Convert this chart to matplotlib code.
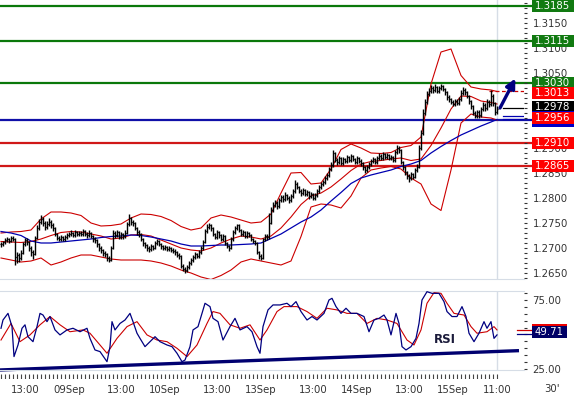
import numpy as np
import matplotlib
matplotlib.use("Agg")
import matplotlib.pyplot as plt
import matplotlib.transforms as mtransforms
from matplotlib.patches import Rectangle

# EUR/USD 30' bars, 08Sep 07:00 .. 15Sep 11:00, prices in pips above 1.2600
close_pips = [108, 112, 116, 118, 115, 121, 119, 82, 86, 80,
              90, 108, 116, 112, 100, 92, 88, 120, 140, 152,
              158, 150, 142, 148, 152, 146, 140, 128, 120, 118,
              122, 118, 122, 126, 128, 130, 126, 132, 128, 130,
              128, 134, 128, 126, 130, 124, 118, 116, 108, 100,
              96, 90, 88, 80, 76, 100, 130, 126, 132, 122,
              128, 124, 130, 148, 160, 152, 150, 140, 132, 128,
              118, 110, 106, 100, 98, 104, 100, 110, 114, 108,
              104, 100, 102, 98, 100, 96, 94, 92, 86, 84,
              64, 58, 56, 62, 70, 76, 82, 88, 84, 92,
              100, 112, 134, 142, 146, 140, 128, 122, 132, 126,
              118, 124, 110, 104, 100, 118, 132, 140, 146, 136,
              128, 132, 124, 130, 126, 118, 114, 110, 92, 84,
              80, 118, 124, 122, 150, 176, 186, 190, 184, 196,
              202, 198, 206, 200, 196, 204, 214, 228, 222, 214,
              210, 216, 208, 212, 204, 208, 200, 206, 214, 222,
              228, 232, 240, 246, 258, 266, 290, 276, 272, 280,
              270, 278, 274, 282, 276, 284, 278, 272, 280, 274,
              270, 262, 256, 262, 268, 274, 278, 272, 280, 284,
              280, 288, 282, 286, 280, 282, 276, 292, 300, 296,
              272, 262, 252, 244, 240, 248, 242, 256, 262, 300,
              330, 370, 392, 408, 414, 420, 416, 422, 414, 420,
              424, 418, 412, 402, 398, 392, 388, 394, 390, 398,
              410, 416, 412, 404, 394, 384, 370, 364, 372, 366,
              378, 386, 380, 392, 388, 404, 390, 372, 378]
high_pips = [112, 115, 120, 122, 121, 125, 124, 121, 92, 90,
             96, 112, 121, 120, 114, 104, 96, 124, 146, 158,
             166, 163, 154, 155, 160, 156, 150, 143, 131, 124,
             126, 125, 126, 130, 133, 136, 133, 137, 135, 134,
             134, 138, 137, 132, 136, 133, 127, 122, 119, 111,
             104, 99, 94, 91, 84, 104, 136, 134, 137, 135,
             133, 131, 136, 152, 169, 163, 157, 153, 143, 136,
             130, 121, 113, 109, 104, 108, 107, 114, 119, 117,
             111, 107, 106, 105, 104, 103, 100, 98, 95, 90,
             86, 68, 62, 66, 74, 80, 86, 92, 91, 97,
             105, 117, 138, 148, 151, 149, 143, 131, 136, 135,
             129, 128, 126, 113, 107, 122, 136, 144, 149, 148,
             139, 136, 134, 134, 133, 129, 121, 117, 112, 95,
             88, 121, 128, 128, 170, 182, 192, 196, 194, 200,
             207, 206, 212, 209, 204, 209, 219, 236, 232, 225,
             218, 221, 219, 216, 215, 212, 211, 210, 219, 226,
             233, 237, 245, 251, 263, 272, 296, 293, 281, 285,
             283, 283, 281, 287, 285, 289, 287, 281, 285, 283,
             278, 273, 265, 266, 272, 279, 283, 281, 285, 290,
             288, 293, 291, 291, 289, 287, 285, 296, 306, 304,
             298, 275, 265, 255, 248, 252, 251, 260, 268, 306,
             336, 378, 398, 414, 420, 426, 424, 429, 425, 425,
             428, 427, 421, 414, 406, 401, 396, 399, 398, 403,
             416, 423, 420, 415, 407, 397, 387, 374, 377, 376,
             383, 392, 390, 398, 397, 416, 408, 393, 384]
low_pips = [102, 105, 109, 113, 111, 112, 114, 66, 70, 72,
            76, 88, 104, 106, 95, 84, 79, 86, 118, 136,
            148, 145, 136, 138, 144, 140, 134, 124, 116, 114,
            115, 114, 115, 119, 122, 124, 122, 123, 124, 125,
            124, 125, 124, 121, 122, 120, 113, 111, 103, 95,
            90, 85, 82, 75, 72, 74, 98, 120, 122, 118,
            119, 119, 121, 128, 145, 147, 144, 136, 127, 123,
            114, 105, 100, 95, 93, 95, 96, 98, 107, 104,
            99, 96, 97, 94, 95, 92, 90, 87, 82, 79,
            60, 54, 51, 53, 59, 67, 73, 79, 80, 81,
            89, 97, 110, 130, 138, 135, 124, 118, 119, 121,
            114, 115, 106, 100, 94, 98, 115, 129, 137, 132,
            124, 125, 120, 121, 122, 114, 110, 106, 88, 79,
            76, 79, 115, 117, 118, 148, 172, 182, 179, 181,
            192, 193, 195, 196, 191, 193, 201, 211, 218, 210,
            205, 206, 204, 204, 199, 200, 196, 197, 203, 211,
            219, 225, 229, 237, 243, 254, 262, 272, 267, 269,
            266, 267, 270, 271, 272, 273, 274, 268, 269, 270,
            265, 257, 250, 252, 259, 265, 271, 268, 269, 277,
            276, 277, 278, 279, 276, 277, 272, 273, 289, 291,
            268, 257, 247, 238, 233, 237, 238, 240, 252, 260,
            296, 326, 366, 388, 404, 410, 411, 412, 410, 410,
            416, 414, 407, 397, 393, 388, 384, 385, 386, 387,
            395, 406, 407, 400, 389, 379, 366, 360, 360, 361,
            363, 374, 375, 377, 383, 385, 385, 367, 368]

# bollinger (20) and moving average, read every 5 bars
band_bar = list(range(0, 246, 5)) + [248]
upper_pips = [130, 132, 133, 136, 158, 172, 172, 170, 165, 150,
              144, 145, 148, 160, 168, 167, 163, 155, 143, 136,
              140, 160, 166, 162, 156, 150, 152, 168, 210, 250,
              251, 228, 230, 258, 297, 308, 300, 290, 289, 291,
              301, 305, 322, 428, 492, 498, 445, 422, 418, 416, 413]
middle_pips = [113, 112, 111, 113, 118, 125, 131, 133, 132, 128,
               124, 118, 120, 126, 127, 124, 116, 108, 100, 96,
               94, 100, 110, 118, 124, 122, 118, 124, 140, 162,
               187, 204, 210, 222, 238, 255, 268, 273, 275, 278,
               280, 275, 278, 305, 340, 378, 404, 403, 394, 391, 388]
lower_pips = [80, 76, 72, 74, 80, 66, 72, 80, 86, 86,
              82, 78, 76, 76, 76, 74, 70, 64, 56, 50,
              42, 37, 45, 56, 72, 78, 74, 70, 66, 74,
              123, 182, 188, 186, 180, 204, 240, 256, 260, 263,
              258, 240, 228, 188, 175, 256, 350, 368, 362, 360, 356]
ma_pips = [133, 130, 125, 114, 110, 110, 112, 114, 116, 118,
           121, 123, 124, 126, 125, 122, 118, 114, 108, 104,
           104, 105, 106, 106, 107, 108, 110, 119, 128, 140,
           152, 162, 176, 194, 211, 229, 240, 246, 251, 256,
           263, 268, 275, 290, 303, 315, 326, 335, 344, 352, 357]

# RSI and its signal line
rsi_bar = [0, 1, 3.5, 5.5, 6.5, 8.5, 10.5, 12, 13.5, 16, 18, 19.5, 21, 23, 24.5, 27, 29.5,
           33, 36, 39.5, 43, 44.5, 47, 49.5, 53, 54.5, 55.5, 57, 59.5, 62, 64.5, 66, 68,
           69.5, 72, 74.5, 77, 79.5, 83, 85.5, 88, 90.5, 92, 94.5, 96, 98.5, 100.5, 102,
           104.5, 106, 108.5, 111, 114.5, 117, 119.5, 123, 125.5, 128, 129.5, 131, 133.5,
           136, 139.5, 143, 145, 147.5, 150, 153, 155.5, 158, 161.5, 164, 165.5, 167.5,
           170, 172.5, 175, 178, 181.5, 184, 186.5, 189, 191.5, 193, 195, 197.5, 199,
           200.5, 202.5, 205, 207.5, 209, 210.5, 213, 215.5, 219, 221.5, 223, 225.5, 228,
           230.5, 232.5, 234, 236.5, 239, 241.5, 243, 245, 246.5, 248]
rsi_val = [54.5, 60.5, 65.3, 55.7, 34, 42.4, 54.5, 57, 48.4, 44.8, 55.7, 65.3, 64.1, 59.3, 63,
           53.3, 49.7, 53.3, 54.5, 52, 54.5, 47.2, 38.8, 37.6, 30.3, 41.2, 59.3, 53.3, 58,
           60.5, 65.3, 59.3, 50.9, 47.2, 41.2, 44.8, 48.4, 44.8, 42.4, 41.2, 36.4, 30.3,
           31.5, 41.2, 53.3, 55.7, 65.3, 72.6, 70.2, 61.7, 59.3, 46, 55.7, 61.7, 53.3,
           55.7, 52, 41.2, 36.4, 55.7, 67.8, 71.4, 71.4, 72.6, 70.2, 73.8, 66.6, 60.5,
           63, 60.5, 65.3, 75, 76.2, 70.2, 65.3, 69, 65.3, 65.3, 63, 52, 60.5, 61.7,
           64.1, 60.5, 49.7, 65.3, 58, 41.2, 38.8, 41.2, 47.2, 58, 75, 81, 79.8, 79.8,
           73.8, 66.6, 63, 63, 70.2, 63, 50.9, 44.8, 50.9, 59.3, 54.5, 59.3, 47.2, 49.7]
sig_bar = [0, 5, 9.5, 14.5, 19.5, 24.5, 29.5, 34.5, 41, 44.5, 49.5, 53, 58, 63, 68, 73, 78,
           83, 88, 93, 98, 103, 106, 109.5, 114.5, 119.5, 124.5, 129.5, 133, 138, 141.5,
           148, 153, 158, 163, 168, 173, 178, 183, 188, 193, 198, 203, 206.5, 210, 213,
           216.5, 220, 223, 226.5, 231.5, 235, 238, 243, 246.5, 248]
sig_val = [46, 58, 44.8, 49.7, 57, 63, 57, 52, 53.3, 50.9, 42.4, 36.4, 47.2, 55.7, 59.3,
           49.7, 46, 44.8, 40, 34, 42.4, 58, 66.6, 65.3, 57, 54.5, 57, 46, 53.3, 66.6,
           70.2, 70.2, 66.6, 61.7, 69, 67.8, 65.3, 65.3, 58, 61.7, 60.5, 58, 46, 42.4,
           53.3, 72.6, 80.3, 79.8, 72.6, 65.3, 64.1, 55.7, 50.9, 52, 55.7, 53.3]
rsi_trend_bar = [-0.5, 259]
rsi_trend_val = [24.3, 38.3]

green_levels = [1.3185, 1.3115, 1.3030]
red_levels = [1.2910, 1.2865]
blue_level = 1.2956

# labels of 1.3000 and 1.2950 sit fully under the value tags
price_ticks = [1.2650, 1.2700, 1.2750, 1.2800, 1.2850, 1.2900, 1.3050, 1.3100, 1.3150]

tick_bars = [12, 34, 60, 82, 108, 130, 156, 178, 204, 226, 248]
tick_labels = ['13:00', '09Sep', '13:00', '10Sep', '13:00', '13Sep',
               '13:00', '14Sep', '13:00', '15Sep', '11:00']

tag_price = [1.3185, 1.3115, 1.3030, 1.3010, 1.2983, 1.2962, 1.2954, 1.2960, 1.2910, 1.2865]
tag_text = ['1.3185', '1.3115', '1.3030', '1.3013', '1.2978', '', '',
            '1.2956', '1.2910', '1.2865']
tag_color = ['#117a11', '#117a11', '#117a11', '#ff0000', '#000000', '#0000c8',
             '#0000c8', '#ff0000', '#ff0000', '#ff0000']

# ---------------------------------------------------------------
base = 1.26
close = base + np.array(close_pips) / 10000
high = base + np.array(high_pips) / 10000
low = base + np.array(low_pips) / 10000
opn = np.r_[close[0], close[:-1]]
idx = np.arange(len(close))

W, H = 574, 396
fig = plt.figure(figsize=(W / 100, H / 100), dpi=100)
fig.patch.set_facecolor('white')
plt.rcParams['font.family'] = ['DejaVu Sans']


def px_axes(l, t, r, b):
    return fig.add_axes([l / W, 1 - b / H, (r - l) / W, (b - t) / H])


grid_c = '#d6dde6'
txt_c = '#333333'
fs = 7.3

# main price panel
ax = px_axes(0, 0, 524, 279)
ax.set_xlim(-0.5, 261.5)
ax.set_ylim(1.2638, 1.3196)
for s in ax.spines.values():
    s.set_visible(False)
ax.spines['bottom'].set_visible(True)
ax.spines['bottom'].set_color(grid_c)
ax.set_xticks([])
ax.yaxis.tick_right()
ax.set_yticks(price_ticks)
ax.set_yticklabels(['%.4f' % v for v in price_ticks])
ax.set_yticks(np.arange(1.264, 1.3196, 0.001), minor=True)
ax.tick_params(axis='y', which='both', direction='out', length=2.2, width=0.8,
               colors=txt_c, labelsize=fs, pad=4)
ax.axvline(248, color=grid_c, lw=1, zorder=0)

for lv in green_levels:
    ax.plot([-0.5, 266], [lv, lv], color='#0a780a', lw=1.6, clip_on=False, zorder=1)
for lv in red_levels:
    ax.plot([-0.5, 266], [lv, lv], color='#d01818', lw=1.6, clip_on=False, zorder=1)
ax.plot([-0.5, 266], [blue_level, blue_level], color='#1010a8', lw=1.6, clip_on=False, zorder=1)

bb = np.array(band_bar)
ax.plot(bb, base + np.array(upper_pips) / 10000, color='#cc0000', lw=0.8, zorder=2)
ax.plot(bb, base + np.array(middle_pips) / 10000, color='#cc0000', lw=0.8, zorder=2)
ax.plot(bb, base + np.array(lower_pips) / 10000, color='#cc0000', lw=0.8, zorder=2)
ax.plot(bb, base + np.array(ma_pips) / 10000, color='#0000b0', lw=0.9, zorder=2)

ax.vlines(idx, low, high, color='black', lw=1.0, zorder=3)
ax.hlines(opn, idx - 0.7, idx, color='black', lw=0.9, zorder=3)
ax.hlines(close, idx, idx + 0.7, color='black', lw=0.9, zorder=3)

# last value markers at right edge
ax.plot([244, 261.5], [1.3014, 1.3014], color='#cc0000', lw=0.9, ls=(0, (3, 2)), zorder=2)
ax.plot([251, 261.5], [1.2980, 1.2980], color='black', lw=0.9, zorder=2)
ax.plot([251, 261.5], [1.2964, 1.2964], color='#0000b0', lw=0.9, zorder=2)
ax.plot([251, 261.5], [1.2959, 1.2959], color='#0000b0', lw=0.9, zorder=2)

ax.annotate('', xy=(257.2, 1.3039), xytext=(249.5, 1.2980),
            arrowprops=dict(arrowstyle='-|>', color='#000080', lw=2.4,
                            mutation_scale=14, shrinkA=0, shrinkB=0),
            annotation_clip=False, zorder=4)

tr = mtransforms.blended_transform_factory(fig.transFigure, ax.transData)
h_price = 12 / 5000
for p, t, c in zip(tag_price, tag_text, tag_color):
    ax.add_patch(Rectangle((532 / W, p - h_price / 2), 42 / W, h_price, transform=tr,
                           facecolor=c, edgecolor='none', clip_on=False, zorder=5))
    if t:
        ax.text(534.5 / W, p, t, transform=tr, color='white', fontsize=fs, ha='left',
                va='center', clip_on=False, zorder=6)

# RSI panel
rx = px_axes(0, 291, 524, 370)
rx.set_xlim(-0.5, 261.5)
rx.set_ylim(24.28, 81.5)
for s in rx.spines.values():
    s.set_visible(False)
for k in ['top', 'bottom']:
    rx.spines[k].set_visible(True)
    rx.spines[k].set_color(grid_c)
rx.set_xticks([])
rx.yaxis.tick_right()
rx.set_yticks([25, 75])
rx.set_yticklabels(['25.00', '75.00'])
rx.set_yticks(np.arange(25, 81, 5), minor=True)
rx.tick_params(axis='y', which='both', direction='out', length=2.2, width=0.8,
               colors=txt_c, labelsize=fs, pad=4)
rx.axvline(248, color=grid_c, lw=1, zorder=0)

rx.plot(rsi_trend_bar, rsi_trend_val, color='#000070', lw=2.4, solid_capstyle='butt',
        clip_on=False, zorder=2)
rx.plot(sig_bar, sig_val, color='#cc0000', lw=0.8, zorder=3)
rx.plot(rsi_bar, rsi_val, color='#000080', lw=0.9, zorder=4)
rx.text(222, 46.7, 'RSI', fontsize=8.5, fontweight='bold', color='#1a1a3a',
        ha='center', va='center')
rx.plot([258, 265], [53.3, 53.3], color='#cc0000', lw=0.9, clip_on=False)
rx.plot([258, 265], [50.2, 50.2], color='#000080', lw=0.9, clip_on=False)

tr2 = mtransforms.blended_transform_factory(fig.transFigure, rx.transData)
h_rsi = 12 / 1.38
rx.add_patch(Rectangle((532 / W, 53.6 - h_rsi / 2), 35 / W, h_rsi, transform=tr2,
                       facecolor='#ee0000', edgecolor='none', clip_on=False, zorder=5))
rx.add_patch(Rectangle((532 / W, 51.8 - h_rsi / 2), 35 / W, h_rsi, transform=tr2,
                       facecolor='#000066', edgecolor='none', clip_on=False, zorder=6))
rx.text(534.5 / W, 51.8, '49.71', transform=tr2, color='white', fontsize=fs,
        ha='left', va='center', clip_on=False, zorder=7)

# time axis
tx = px_axes(0, 374, 524, 379)
tx.set_xlim(-0.5, 261.5)
tx.set_ylim(0, 1)
for s in tx.spines.values():
    s.set_visible(False)
tx.vlines(np.arange(0, 249, 2), 0, 1, color='#444444', lw=0.8)
tx.set_yticks([])
tx.set_xticks(tick_bars)
tx.set_xticklabels(tick_labels)
tx.tick_params(axis='x', length=0, pad=4, labelsize=fs, colors=txt_c)
fig.text(552 / W, 1 - 389 / H, "30'", fontsize=fs, color=txt_c, ha='center', va='center')

fig.savefig('out.png', dpi=100)
